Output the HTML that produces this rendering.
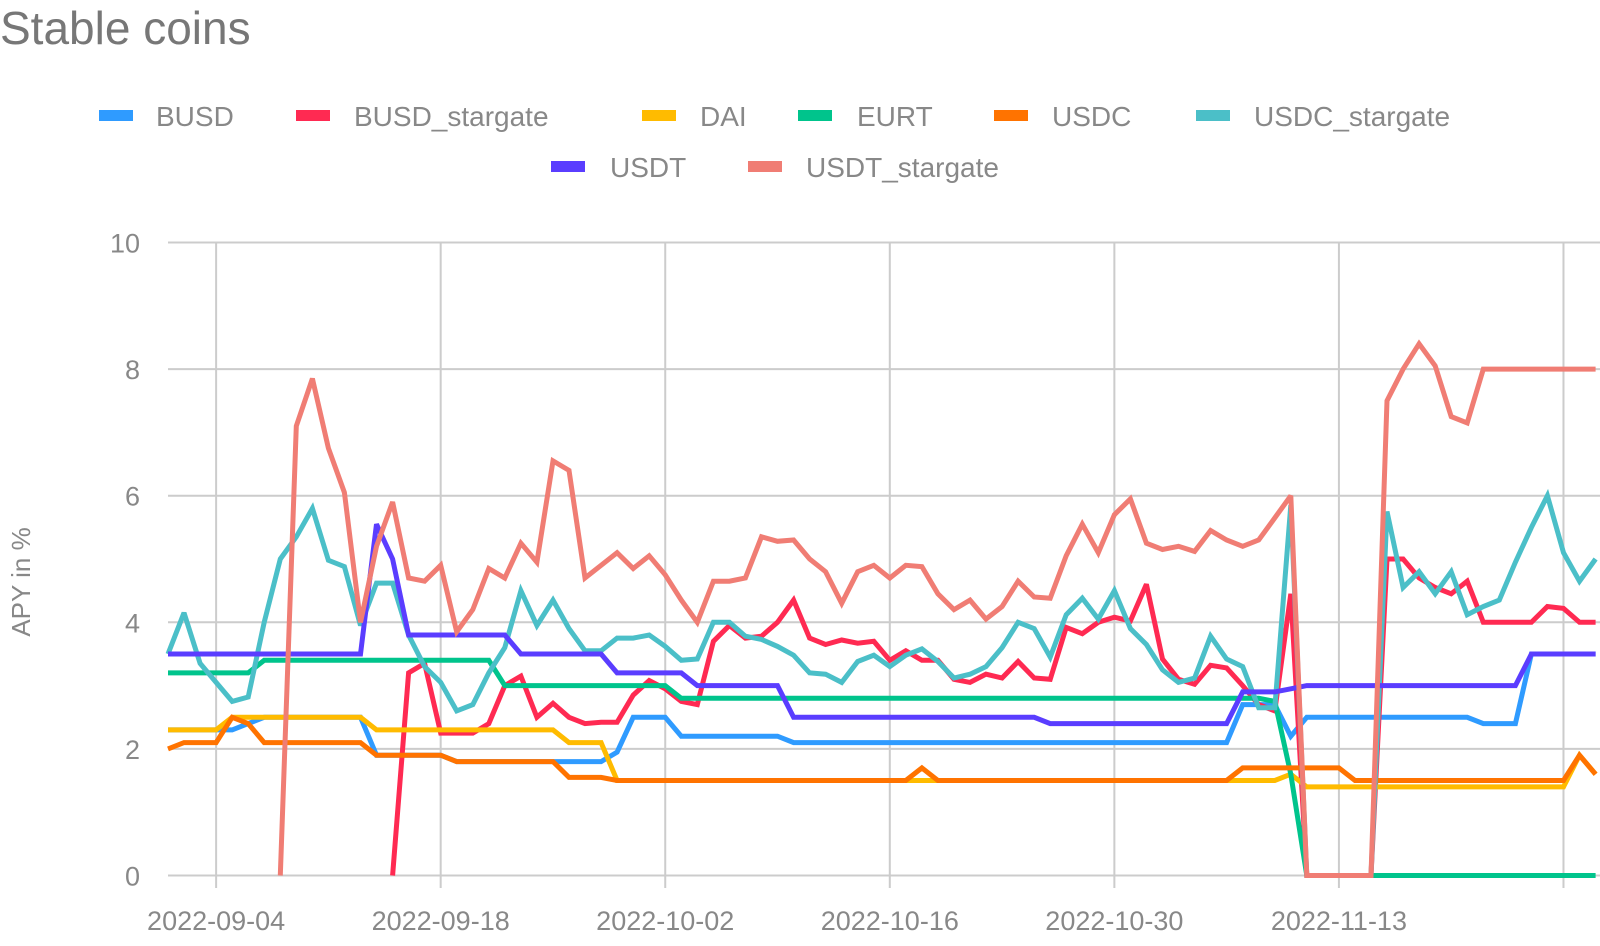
<!DOCTYPE html>
<html><head><meta charset="utf-8">
<style>
html,body{margin:0;padding:0;background:#fff;}
body{width:1600px;height:941px;overflow:hidden;font-family:"Liberation Sans",sans-serif;}
svg text{font-family:"Liberation Sans",sans-serif;}
</style></head>
<body>
<svg id="chart" width="1600" height="941" viewBox="0 0 1600 941" xmlns="http://www.w3.org/2000/svg">
<text x="0" y="44" font-size="46" fill="#777">Stable coins</text>
<g id="legend"></g>
<g id="grid"></g>
<g id="series"></g>
<text transform="translate(30,582) rotate(-90)" text-anchor="middle" font-size="26" fill="#888">APY in %</text>
</svg>
<script>
const N=null;
const seriesNames=["BUSD","BUSD_stargate","DAI","EURT","USDC","USDC_stargate","USDT","USDT_stargate"];
const seriesColors=["#2f9bff","#ff2a52","#ffbb00","#00c48c","#ff7300","#4bbfc8","#5a3dff","#f07d74"];
const startDate="2022-09-01";
const yTicks=[0,2,4,6,8,10];
const xTickLabels=["2022-09-04","2022-09-18","2022-10-02","2022-10-16","2022-10-30","2022-11-13",""];
const xTickIdx=[3,17,31,45,59,73,87];
const busd=[2.3,2.3,2.3,2.3,2.3,2.4,2.5,2.5,2.5,2.5,2.5,2.5,2.5,1.9,1.9,1.9,1.9,1.9,1.8,1.8,1.8,1.8,1.8,1.8,1.8,1.8,1.8,1.8,1.95,2.5,2.5,2.5,2.2,2.2,2.2,2.2,2.2,2.2,2.2,2.1,2.1,2.1,2.1,2.1,2.1,2.1,2.1,2.1,2.1,2.1,2.1,2.1,2.1,2.1,2.1,2.1,2.1,2.1,2.1,2.1,2.1,2.1,2.1,2.1,2.1,2.1,2.1,2.7,2.7,2.7,2.2,2.5,2.5,2.5,2.5,2.5,2.5,2.5,2.5,2.5,2.5,2.5,2.4,2.4,2.4,3.5,3.5,3.5,3.5,3.5];
const busdStargate=[N,N,N,N,N,N,N,N,N,N,N,N,N,N,0,3.2,3.35,2.25,2.25,2.25,2.4,3.0,3.15,2.5,2.72,2.5,2.4,2.42,2.42,2.85,3.08,2.95,2.75,2.7,3.7,3.95,3.75,3.78,4.0,4.35,3.75,3.65,3.72,3.67,3.7,3.4,3.55,3.4,3.4,3.1,3.05,3.18,3.12,3.38,3.12,3.1,3.92,3.82,4.0,4.08,4.02,4.6,3.42,3.1,3.02,3.32,3.28,3.0,2.7,2.6,4.45,0,0,0,0,0,5.0,5.0,4.7,4.55,4.45,4.65,4.0,4.0,4.0,4.0,4.25,4.22,4.0,4.0];
const dai=[2.3,2.3,2.3,2.3,2.5,2.5,2.5,2.5,2.5,2.5,2.5,2.5,2.5,2.3,2.3,2.3,2.3,2.3,2.3,2.3,2.3,2.3,2.3,2.3,2.3,2.1,2.1,2.1,1.5,1.5,1.5,1.5,1.5,1.5,1.5,1.5,1.5,1.5,1.5,1.5,1.5,1.5,1.5,1.5,1.5,1.5,1.5,1.5,1.5,1.5,1.5,1.5,1.5,1.5,1.5,1.5,1.5,1.5,1.5,1.5,1.5,1.5,1.5,1.5,1.5,1.5,1.5,1.5,1.5,1.5,1.6,1.4,1.4,1.4,1.4,1.4,1.4,1.4,1.4,1.4,1.4,1.4,1.4,1.4,1.4,1.4,1.4,1.4,1.9,1.6];
const eurt=[3.2,3.2,3.2,3.2,3.2,3.2,3.4,3.4,3.4,3.4,3.4,3.4,3.4,3.4,3.4,3.4,3.4,3.4,3.4,3.4,3.4,3.0,3.0,3.0,3.0,3.0,3.0,3.0,3.0,3.0,3.0,3.0,2.8,2.8,2.8,2.8,2.8,2.8,2.8,2.8,2.8,2.8,2.8,2.8,2.8,2.8,2.8,2.8,2.8,2.8,2.8,2.8,2.8,2.8,2.8,2.8,2.8,2.8,2.8,2.8,2.8,2.8,2.8,2.8,2.8,2.8,2.8,2.8,2.8,2.75,1.6,0,0,0,0,0,0,0,0,0,0,0,0,0,0,0,0,0,0,0];
const usdc=[2.0,2.1,2.1,2.1,2.5,2.4,2.1,2.1,2.1,2.1,2.1,2.1,2.1,1.9,1.9,1.9,1.9,1.9,1.8,1.8,1.8,1.8,1.8,1.8,1.8,1.55,1.55,1.55,1.5,1.5,1.5,1.5,1.5,1.5,1.5,1.5,1.5,1.5,1.5,1.5,1.5,1.5,1.5,1.5,1.5,1.5,1.5,1.7,1.5,1.5,1.5,1.5,1.5,1.5,1.5,1.5,1.5,1.5,1.5,1.5,1.5,1.5,1.5,1.5,1.5,1.5,1.5,1.7,1.7,1.7,1.7,1.7,1.7,1.7,1.5,1.5,1.5,1.5,1.5,1.5,1.5,1.5,1.5,1.5,1.5,1.5,1.5,1.5,1.9,1.6];
const usdcStargate=[3.5,4.15,3.35,3.05,2.75,2.82,4.0,5.0,5.35,5.8,4.98,4.88,3.95,4.62,4.62,3.8,3.3,3.05,2.6,2.7,3.2,3.6,4.5,3.95,4.35,3.9,3.55,3.55,3.75,3.75,3.8,3.62,3.4,3.42,4.0,4.0,3.78,3.73,3.62,3.48,3.2,3.18,3.05,3.38,3.48,3.3,3.48,3.58,3.38,3.12,3.18,3.3,3.6,4.0,3.9,3.45,4.12,4.38,4.05,4.5,3.9,3.65,3.25,3.05,3.12,3.78,3.42,3.3,2.65,2.65,5.85,0,0,0,0,0,5.75,4.55,4.8,4.45,4.8,4.12,4.25,4.35,4.95,5.5,6.0,5.1,4.65,5.0];
const usdt=[3.5,3.5,3.5,3.5,3.5,3.5,3.5,3.5,3.5,3.5,3.5,3.5,3.5,5.55,5.0,3.8,3.8,3.8,3.8,3.8,3.8,3.8,3.5,3.5,3.5,3.5,3.5,3.5,3.2,3.2,3.2,3.2,3.2,3.0,3.0,3.0,3.0,3.0,3.0,2.5,2.5,2.5,2.5,2.5,2.5,2.5,2.5,2.5,2.5,2.5,2.5,2.5,2.5,2.5,2.5,2.4,2.4,2.4,2.4,2.4,2.4,2.4,2.4,2.4,2.4,2.4,2.4,2.9,2.9,2.9,2.95,3.0,3.0,3.0,3.0,3.0,3.0,3.0,3.0,3.0,3.0,3.0,3.0,3.0,3.0,3.5,3.5,3.5,3.5,3.5];
const usdtStargate=[N,N,N,N,N,N,N,0,7.1,7.85,6.75,6.05,4.0,5.2,5.9,4.7,4.65,4.9,3.85,4.2,4.85,4.7,5.25,4.95,6.55,6.4,4.7,4.9,5.1,4.85,5.05,4.75,4.35,4.0,4.65,4.65,4.7,5.35,5.28,5.3,5.0,4.8,4.3,4.8,4.9,4.7,4.9,4.88,4.45,4.2,4.35,4.05,4.25,4.65,4.4,4.38,5.05,5.55,5.1,5.7,5.95,5.25,5.15,5.2,5.12,5.45,5.3,5.2,5.3,5.65,6.0,0,0,0,0,0,7.5,8.0,8.4,8.05,7.25,7.15,8.0,8.0,8.0,8.0,8.0,8.0,8.0,8.0];
const allSeries=[busd,busdStargate,dai,eurt,usdc,usdcStargate,usdt,usdtStargate];

const NS="http://www.w3.org/2000/svg";
const X0=168,DX=16.04,Y0=875.5,DY=63.3;
function xs(i){return X0+DX*i;}
function ys(v){return Y0-DY*v;}
function mk(t,a,p){const e=document.createElementNS(NS,t);for(const k in a)e.setAttribute(k,a[k]);p.appendChild(e);return e;}

const grid=document.getElementById('grid');
yTicks.forEach((t,k)=>{
  const l=mk('line',{x1:X0,x2:1600,y1:ys(t),y2:ys(t),stroke:'#cccccc','stroke-width':2},grid);
  
  
  const tx=mk('text',{x:140,y:ys(t)+10,'text-anchor':'end','font-size':27,fill:'#888'},grid);
  tx.textContent=t;
  
  
});
xTickIdx.forEach((i,k)=>{
  const l=mk('line',{x1:xs(i),x2:xs(i),y1:ys(10),y2:888,stroke:'#cccccc','stroke-width':2},grid);
  
  
  const tx=mk('text',{x:xs(i),y:930,'text-anchor':'middle','font-size':27,fill:'#888'},grid);
  tx.textContent=xTickLabels[k];
  
  
});

const sg=document.getElementById('series');
allSeries.forEach((arr,s)=>{
  let d='',pen=false;
  arr.forEach((v,i)=>{
    if(v===null){pen=false;return;}
    d+=(pen?'L':'M')+xs(i).toFixed(1)+','+ys(v).toFixed(1);pen=true;
  });
  const p=mk('path',{d:d,fill:'none',stroke:seriesColors[s],'stroke-width':5,'stroke-linejoin':'miter','stroke-miterlimit':3},sg);
  
  
});

const lg=document.getElementById('legend');
const legPos=[[99,156,116],[296,354,116],[642,700,116],[798,857,116],[994,1052,116],[1196,1254,116],[551,610,167],[748,806,167]];
seriesNames.forEach((n,s)=>{
  const g=mk('g',{},lg);
  
  
  const [sx,tx,y]=legPos[s];
  mk('rect',{x:sx,y:y-6,width:34,height:11,fill:seriesColors[s]},g);
  const t=mk('text',{x:tx,y:y+10,'font-size':28,fill:'#888'},g);
  t.textContent=n;
});
</script>
</body></html>
